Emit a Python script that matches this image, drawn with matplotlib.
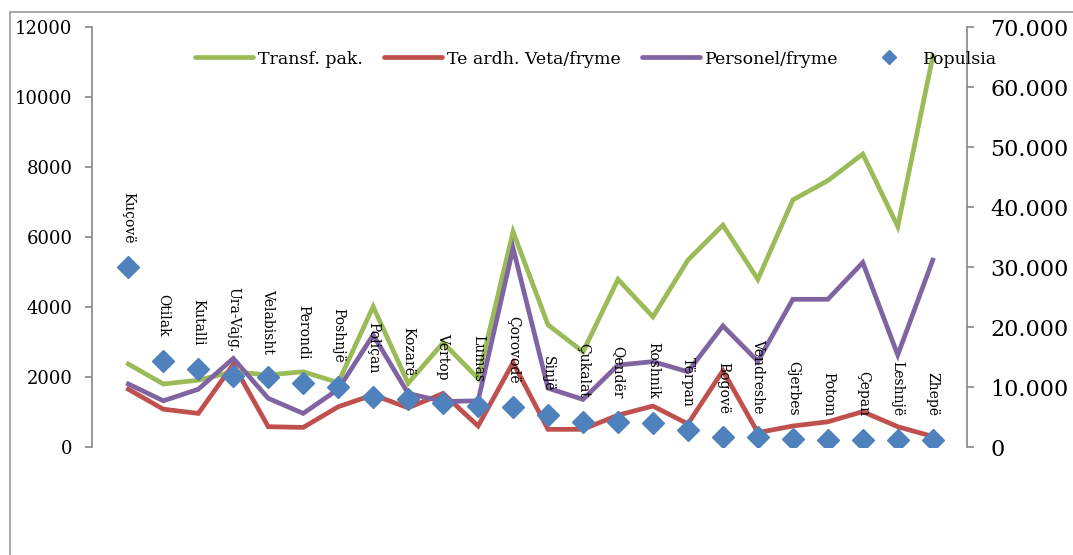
import matplotlib
matplotlib.use("Agg")
import matplotlib.pyplot as plt
from matplotlib.patches import Rectangle
from matplotlib.lines import Line2D

categories = ["Kuçovë", "Otilak", "Kutalli", "Ura-Vajg.", "Velabisht", "Perondi",
              "Poshnjë", "Poliçan", "Kozarë", "Vertop", "Lumas", "Çorovodë",
              "Sinjë", "Çukalat", "Qendër", "Roshnik", "Tërpan", "Bogovë",
              "Vendreshe", "Gjerbes", "Potom", "Çepan", "Leshnjë", "Zhepë"]

transf_pak = [2370, 1800, 1910, 2150, 2060, 2150, 1840, 4010, 1820, 2980, 1960, 6150,
              3490, 2720, 4790, 3720, 5340, 6340, 4790, 7060, 7610, 8370, 6300, 11150]
te_ardh = [1650, 1080, 960, 2360, 580, 560, 1150, 1490, 1120, 1530, 600, 2410,
           505, 505, 910, 1170, 660, 2180, 410, 600, 720, 1010, 580, 300]
personel = [1800, 1320, 1650, 2530, 1390, 960, 1650, 3200, 1530, 1300, 1320, 5680,
            1680, 1360, 2340, 2440, 2150, 3460, 2450, 4220, 4220, 5270, 2630, 5340]
populsia = [30050, 14390, 12940, 11830, 11610, 10720, 10060, 8390, 7940, 7390, 6830, 6610,
            5330, 4220, 4220, 4060, 2830, 1610, 1610, 1280, 1170, 1170, 1170, 1170]

left_ticks = [0, 2000, 4000, 6000, 8000, 10000, 12000]
right_ticks = [0, 10000, 20000, 30000, 40000, 50000, 60000, 70000]
right_labels = ["0", "10.000", "20.000", "30.000", "40.000", "50.000", "60.000", "70.000"]

GREEN = "#9BBB59"
RED = "#C0504D"
PURPLE = "#8064A2"
BLUE = "#4F81BD"
GRAY = "#868686"

plt.rcParams['font.family'] = ['DejaVu Serif']

W, H = 1073, 555
fig = plt.figure(figsize=(W / 100, H / 100), dpi=100)

# outer chart frame (only left and top visible)
fig.patches.append(Rectangle((10 / W, -0.2), 1.5, 1 - 12 / H + 0.2,
                             transform=fig.transFigure, fill=False,
                             edgecolor="#A0A0A0", linewidth=1.3))

x0, x1 = 92 / W, 967 / W
y0, y1 = (H - 447) / H, (H - 27) / H
ax = fig.add_axes([x0, y0, x1 - x0, y1 - y0])
ax.patch.set_alpha(0)
ax2 = ax.twinx()

x = list(range(len(categories)))
lw = 3.4
ax.plot(x, transf_pak, color=GREEN, lw=lw, solid_joinstyle="miter", zorder=6, label="Transf. pak.")
ax.plot(x, te_ardh, color=RED, lw=lw, solid_joinstyle="miter", zorder=6, label="Te ardh. Veta/fryme")
ax.plot(x, personel, color=PURPLE, lw=lw, solid_joinstyle="miter", zorder=6, label="Personel/fryme")
ax2.plot(x, populsia, linestyle="none", marker="D", markersize=11, color=BLUE, label="Populsia")

for xi, v, name in zip(x, populsia, categories):
    ax2.annotate(name, (xi, v), xytext=(0, 17), textcoords="offset points",
                 rotation=-90, ha="center", va="bottom", fontsize=10)

ax.set_xlim(-1.04, 23.98)
ax.set_ylim(0, 12000)
ax2.set_ylim(0, 70000)
ax.set_yticks(left_ticks)
ax.set_yticklabels([str(t) for t in left_ticks])
ax2.set_yticks(right_ticks)
ax2.set_yticklabels(right_labels)
ax.set_xticks([])

for a in (ax, ax2):
    for s in ("top", "bottom"):
        a.spines[s].set_visible(False)
ax.spines["right"].set_visible(False)
ax2.spines["left"].set_visible(False)
ax.spines["left"].set_color(GRAY)
ax2.spines["right"].set_color(GRAY)
ax.spines["left"].set_linewidth(1.2)
ax2.spines["right"].set_linewidth(1.2)
ax.tick_params(axis="y", direction="out", length=5, width=1.2, color=GRAY, pad=9, labelsize=13)
ax2.tick_params(axis="y", direction="out", length=5, width=1.2, color=GRAY, pad=12, labelsize=16)

handles = [Line2D([], [], color=GREEN, lw=lw, solid_capstyle="round"),
           Line2D([], [], color=RED, lw=lw, solid_capstyle="round"),
           Line2D([], [], color=PURPLE, lw=lw, solid_capstyle="round"),
           Line2D([], [], color=BLUE, marker="D", markersize=7, linestyle="none")]
labels = ["Transf. pak.", "Te ardh. Veta/fryme", "Personel/fryme", "Populsia"]
leg = fig.legend(handles, labels, loc="center", bbox_to_anchor=(596 / W, (H - 59) / H),
                 ncol=4, frameon=False, fontsize=12.5, handlelength=3.3,
                 handletextpad=0.3, columnspacing=1.25)

fig.savefig("out.png", dpi=100)
